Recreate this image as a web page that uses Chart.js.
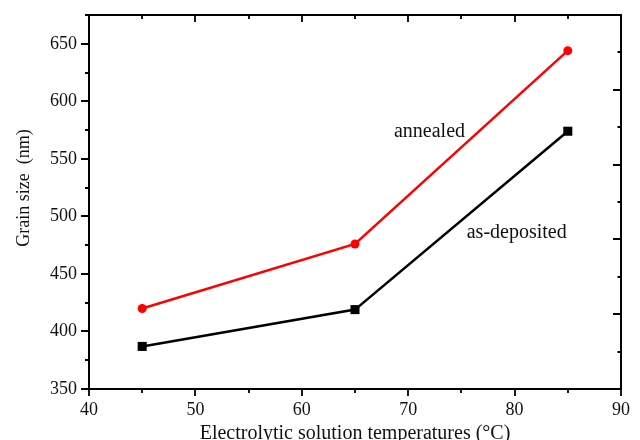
<!DOCTYPE html>
<html>
<head>
<meta charset="utf-8">
<script src="https://cdn.jsdelivr.net/npm/chart.js@4/dist/chart.umd.min.js"></script>
<style>
html,body{margin:0;padding:0;background:#fff;}
#wrap{width:640px;height:440px;position:relative;}
</style>
</head>
<body>
<div id="wrap"><canvas id="c" width="640" height="440"></canvas></div>
<script>
const temperatures = [45, 65, 85];
const annealed = [420, 476, 644];
const asDeposited = [387, 419, 574];
const xTickLabels = [40, 50, 60, 70, 80, 90];
const yTickLabels = [350, 400, 450, 500, 550, 600, 650];
const xTitle = 'Electrolytic solution temperatures (\u00B0C)';
const yTitle = 'Grain size  (nm)';
const labelTexts = ['annealed', 'as-deposited'];
const labelX = [72.0, 80.2];
const labelY = [569, 481];

const SERIF = '"Liberation Serif", "Times New Roman", serif';

const framePlugin = {
  id: 'frame',
  afterDraw(chart) {
    const ctx = chart.ctx;
    const a = chart.chartArea;
    const xs = chart.scales.x, ys = chart.scales.y, y2 = chart.scales.y2;
    ctx.save();
    ctx.strokeStyle = '#000';
    ctx.lineWidth = 2;
    ctx.lineCap = 'butt';
    ctx.beginPath();
    ctx.rect(a.left, a.top, a.right - a.left, a.bottom - a.top);
    ctx.stroke();
    ctx.lineWidth = 1.8;
    ctx.beginPath();
    for (let v = 40; v <= 90; v += 5) {
      const px = Math.round(xs.getPixelForValue(v));
      const len = (v % 10 === 0) ? 7 : 4;
      ctx.moveTo(px, a.bottom); ctx.lineTo(px, a.bottom + len);
      ctx.moveTo(px, a.top); ctx.lineTo(px, a.top + len);
    }
    for (let v = 350; v <= 675; v += 25) {
      const py = Math.round(ys.getPixelForValue(v));
      const len = (v % 50 === 0) ? 8 : 4;
      ctx.moveTo(a.left, py); ctx.lineTo(a.left - len, py);
    }
    for (let v = 0; v <= 10; v += 1) {
      const py = Math.round(y2.getPixelForValue(v));
      const len = (v % 2 === 0) ? 8 : 3.5;
      ctx.moveTo(a.right, py); ctx.lineTo(a.right - len, py);
    }
    ctx.stroke();

    ctx.fillStyle = '#111';
    ctx.font = '20px ' + SERIF;
    ctx.textAlign = 'center';
    ctx.textBaseline = 'alphabetic';
    ctx.fillText(xTitle, (a.left + a.right) / 2, 439);
    ctx.save();
    ctx.translate(29, 188);
    ctx.rotate(-Math.PI / 2);
    ctx.font = '18px ' + SERIF;
    ctx.fillText(yTitle, 0, 0);
    ctx.restore();

    ctx.font = '20px ' + SERIF;
    ctx.fillStyle = '#111';
    for (let i = 0; i < labelTexts.length; i++) {
      ctx.fillText(labelTexts[i], xs.getPixelForValue(labelX[i]), ys.getPixelForValue(labelY[i]));
    }
    ctx.restore();
  }
};

new Chart(document.getElementById('c'), {
  type: 'line',
  data: {
    datasets: [
      {
        label: 'annealed',
        data: temperatures.map((t, i) => ({x: t, y: annealed[i]})),
        borderColor: '#ff0000',
        backgroundColor: '#ff0000',
        borderWidth: 2.5,
        pointStyle: 'circle',
        pointRadius: 4.5,
        pointBorderWidth: 0,
        tension: 0,
        fill: false
      },
      {
        label: 'as-deposited',
        data: temperatures.map((t, i) => ({x: t, y: asDeposited[i]})),
        borderColor: '#000000',
        backgroundColor: '#000000',
        borderWidth: 2.5,
        pointStyle: 'rect',
        pointRadius: 6.4,
        pointBorderWidth: 0,
        tension: 0,
        fill: false
      }
    ]
  },
  options: {
    responsive: false,
    animation: false,
    devicePixelRatio: 1,
    layout: {padding: {top: 15, right: 19, left: 0, bottom: 0}},
    plugins: {legend: {display: false}, tooltip: {enabled: false}},
    scales: {
      x: {
        type: 'linear',
        position: 'bottom',
        min: 40, max: 90,
        grid: {display: false, drawTicks: false},
        border: {display: false},
        ticks: {
          stepSize: 5,
          autoSkip: false,
          maxRotation: 0,
          padding: 10,
          color: '#111',
          font: {family: SERIF, size: 18},
          callback: v => xTickLabels.includes(v) ? String(v) : ''
        },
        afterFit: s => { s.height = 51; s.paddingLeft = 0; s.paddingRight = 0; }
      },
      y: {
        type: 'linear',
        position: 'left',
        min: 350, max: 675,
        grid: {display: false, drawTicks: false},
        border: {display: false},
        ticks: {
          stepSize: 25,
          autoSkip: false,
          padding: 12,
          color: '#111',
          font: {family: SERIF, size: 18},
          callback: v => yTickLabels.includes(v) ? String(v) : ''
        },
        afterFit: s => { s.width = 89; s.paddingTop = 0; s.paddingBottom = 0; }
      },
      y2: {
        type: 'linear',
        position: 'right',
        display: false,
        min: 0, max: 10
      }
    }
  },
  plugins: [framePlugin]
});
</script>
</body>
</html>
